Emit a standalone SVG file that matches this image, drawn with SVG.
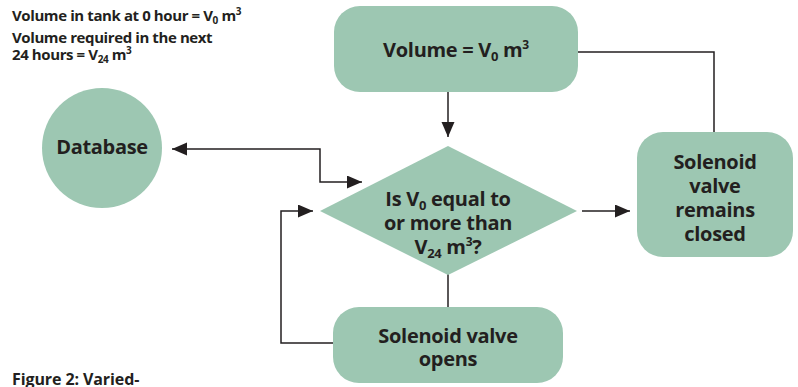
<svg xmlns="http://www.w3.org/2000/svg" width="798" height="387" viewBox="0 0 798 387">
<style>
.node{fill:#9dc7b2;}
.lbl{font-family:"Open Sans","Liberation Sans",sans-serif;font-weight:700;fill:#231f20;font-size:20px;text-anchor:middle;letter-spacing:-0.3px;}
.note{font-family:"Open Sans","Liberation Sans",sans-serif;font-weight:700;fill:#231f20;font-size:15px;letter-spacing:-0.4px;}
.con{fill:none;stroke:#231f20;stroke-width:1.5;}
.sn{font-size:10px;}
.sl{font-size:13px;}
.sp{font-size:12px;}
</style>
<defs>
<marker id="ah" markerUnits="userSpaceOnUse" markerWidth="16" markerHeight="14" refX="15" refY="6.5" orient="auto-start-reverse">
<path d="M0,0 L15,6.5 L0,13 z" fill="#231f20"/>
</marker>
</defs>
<g id="notes">
<text class="note" x="12" y="21">Volume in tank at 0 hour = V<tspan class="sn" dy="3">0</tspan><tspan dy="-3"> m</tspan><tspan class="sn" dy="-6">3</tspan></text>
<text class="note" x="12" y="43">Volume required in the next</text>
<text class="note" x="12" y="60">24 hours = V<tspan class="sn" dy="3">24</tspan><tspan dy="-3"> m</tspan><tspan class="sn" dy="-6">3</tspan></text>
<text class="note" x="12" y="385" style="font-size:16px;letter-spacing:-0.1px">Figure 2: Varied-</text>
</g>
<g id="connectors">
<path class="con" d="M448,92 L448,137" marker-end="url(#ah)"/>
<path class="con" d="M578,52 L714,52 L714,132"/>
<path class="con" d="M172,149 L320,149 L320,182 L362,182" marker-start="url(#ah)" marker-end="url(#ah)"/>
<path class="con" d="M582,211 L630,211" marker-end="url(#ah)"/>
<path class="con" d="M448,274 L448,307"/>
<path class="con" d="M333,343 L281,343 L281,211 L313,211" marker-end="url(#ah)"/>
</g>
<g id="volume">
<rect class="node" x="334" y="6" width="244" height="86" rx="26"/>
<text class="lbl" x="456" y="57">Volume = V<tspan class="sl" dy="4">0</tspan><tspan dy="-4"> m</tspan><tspan class="sp" dy="-8">3</tspan></text>
</g>
<g id="database">
<circle class="node" cx="102" cy="148" r="60"/>
<text class="lbl" x="102" y="154">Database</text>
</g>
<g id="decision">
<polygon class="node" points="448,146 577,211 448,275 320,211"/>
<text class="lbl" x="448" y="206">Is V<tspan class="sl" dy="4">0</tspan><tspan dy="-4"> equal to</tspan></text>
<text class="lbl" x="448" y="230">or more than</text>
<text class="lbl" x="448" y="254">V<tspan class="sl" dy="4">24</tspan><tspan dy="-4"> m</tspan><tspan class="sp" dy="-8">3</tspan><tspan dy="8">?</tspan></text>
</g>
<g id="closed">
<rect class="node" x="637" y="132" width="156" height="125" rx="26"/>
<text class="lbl" x="715" y="169">Solenoid</text>
<text class="lbl" x="715" y="193">valve</text>
<text class="lbl" x="715" y="217">remains</text>
<text class="lbl" x="715" y="241">closed</text>
</g>
<g id="opens">
<rect class="node" x="333" y="307" width="230" height="76" rx="26"/>
<text class="lbl" x="448" y="343">Solenoid valve</text>
<text class="lbl" x="448" y="366">opens</text>
</g>
</svg>
